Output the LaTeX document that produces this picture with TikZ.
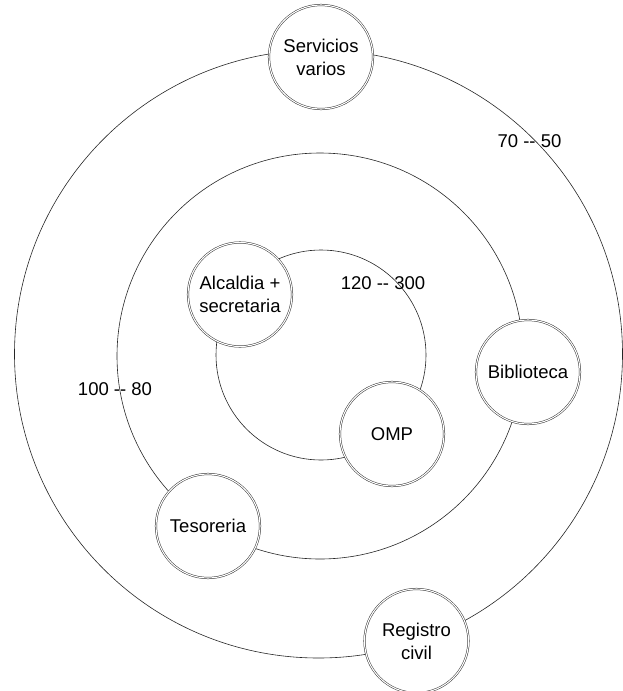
\documentclass[tikz,border=0pt]{standalone}
\usepackage{fontspec}
\setmainfont{Liberation Sans}
\begin{document}
\begin{tikzpicture}[x=1pt,y=-1pt,
  ring/.style={line width=0.6pt, draw=black!85},
  unit/.style={circle, draw=black!80, line width=0.5pt, double, double distance=1.1pt,
    fill=white, minimum size=104pt, inner sep=0pt, align=center,
    font=\fontsize{18.5}{23}\selectfont},
  lab/.style={font=\fontsize{18.5}{23}\selectfont, inner sep=0pt}]
\useasboundingbox (0,0) rectangle (622,691);
% concentric rings
\draw[ring] (318.5,354) circle[radius=304];
\draw[ring] (320,356) circle[radius=203];
\draw[ring] (321,355) circle[radius=105];
% labels
\node[lab] (l1) at (529.5,141) {70 -{}- 50};
\node[lab] (l2) at (383,283) {120 -{}- 300};
\node[lab] (l3) at (115,389) {100 -{}- 80};
% units
\node[unit] (serv) at (321,57) {Servicios\\varios};
\node[unit] (alc) at (240,294.5) {Alcaldia +\\secretaria};
\node[unit] (bib) at (528,372) {Biblioteca};
\node[unit] (omp) at (392,434) {OMP};
\node[unit] (tes) at (208,526) {Tesoreria};
\node[unit] (reg) at (416.5,641) {Registro\\civil};
\end{tikzpicture}
\end{document}
